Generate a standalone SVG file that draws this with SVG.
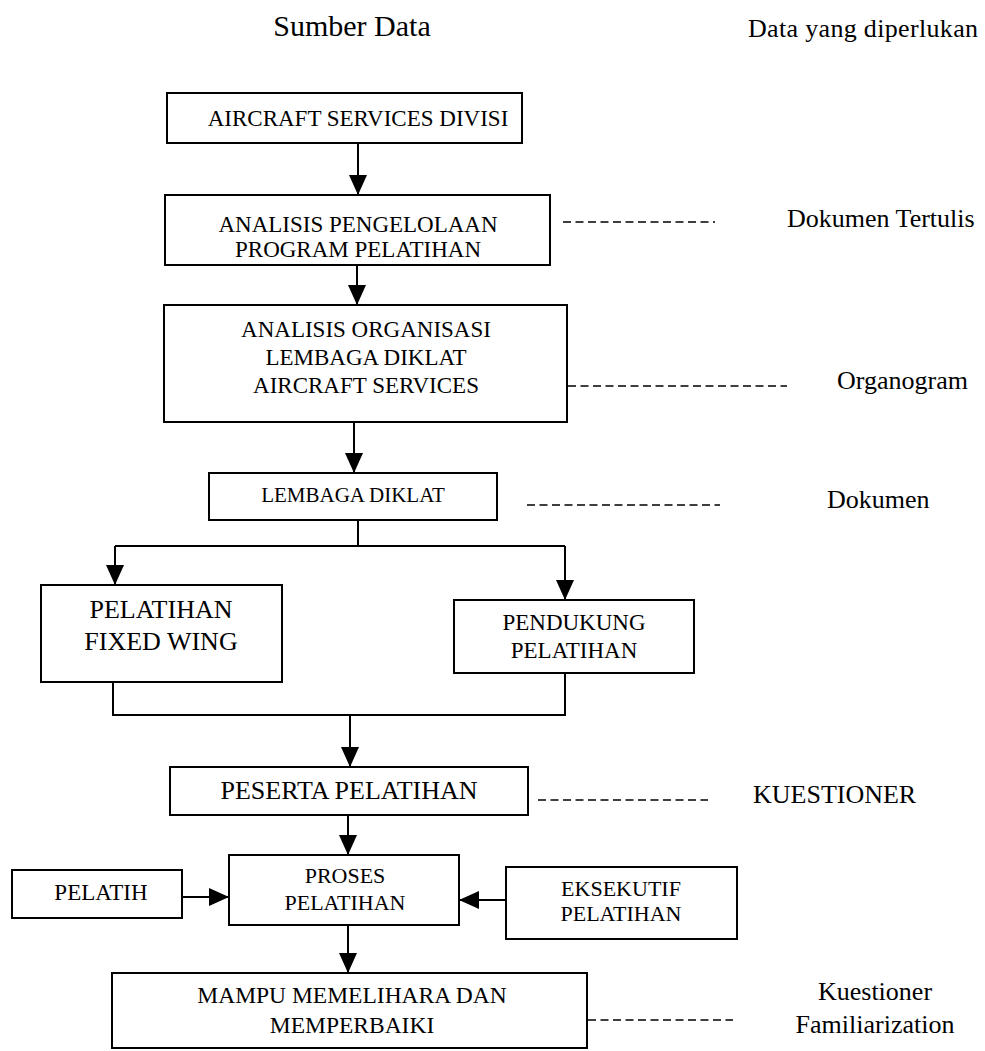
<svg xmlns="http://www.w3.org/2000/svg" width="985" height="1051" viewBox="0 0 985 1051">
<style>
text{font-family:"Liberation Serif","Times New Roman",serif;fill:#000}
.box{fill:#fff;stroke:#000;stroke-width:2}
.t{font-size:23px;text-anchor:middle}
.lbl{font-size:26px}
.c{fill:none;stroke:#000;stroke-width:2}
.d{fill:none;stroke:#000;stroke-width:1.6;stroke-dasharray:8 4.5}
</style>
<defs>
<marker id="ah" markerUnits="userSpaceOnUse" markerWidth="20" markerHeight="18" refX="20" refY="9" orient="auto">
<path d="M0,0 L20,9 L0,18 z" fill="#000"/>
</marker>
</defs>
<rect width="985" height="1051" fill="#fff"/>
<g id="headers">
<text x="352" y="36" style="font-size:30px;text-anchor:middle">Sumber Data</text>
<text x="748" y="37" class="lbl" textLength="230">Data yang diperlukan</text>
</g>
<g id="connectors">
<line class="c" x1="358" y1="143" x2="358" y2="195" marker-end="url(#ah)"/>
<line class="c" x1="357" y1="265" x2="357" y2="305" marker-end="url(#ah)"/>
<line class="c" x1="354" y1="422" x2="354" y2="473" marker-end="url(#ah)"/>
<polyline class="c" points="358,520 358,546"/>
<polyline class="c" points="115,546 565,546"/>
<line class="c" x1="115" y1="546" x2="115" y2="585" marker-end="url(#ah)"/>
<line class="c" x1="565" y1="546" x2="565" y2="600" marker-end="url(#ah)"/>
<polyline class="c" points="113,682 113,715 565,715 565,673"/>
<line class="c" x1="350" y1="715" x2="350" y2="767" marker-end="url(#ah)"/>
<line class="c" x1="348" y1="815" x2="348" y2="855" marker-end="url(#ah)"/>
<line class="c" x1="182" y1="897" x2="229" y2="897" marker-end="url(#ah)"/>
<line class="c" x1="506" y1="900" x2="459" y2="900" marker-end="url(#ah)"/>
<line class="c" x1="348" y1="925" x2="348" y2="973" marker-end="url(#ah)"/>
<line class="d" x1="563" y1="222" x2="715" y2="222"/>
<line class="d" x1="568" y1="386" x2="787" y2="386"/>
<line class="d" x1="527" y1="505" x2="720" y2="505"/>
<line class="d" x1="538" y1="800" x2="708" y2="800"/>
<line class="d" x1="588" y1="1020" x2="733" y2="1020"/>
</g>
<g id="n1">
<rect class="box" x="167" y="93" width="355" height="50"/>
<text class="t" x="358" y="126">AIRCRAFT SERVICES DIVISI</text>
</g>
<g id="n2">
<rect class="box" x="165" y="195" width="385" height="70"/>
<text class="t" x="358" y="232">ANALISIS PENGELOLAAN</text>
<text class="t" x="358" y="257">PROGRAM PELATIHAN</text>
</g>
<g id="n3">
<rect class="box" x="164" y="305" width="403" height="117"/>
<text class="t" x="366" y="337">ANALISIS ORGANISASI</text>
<text class="t" x="366" y="365">LEMBAGA DIKLAT</text>
<text class="t" x="366" y="393">AIRCRAFT SERVICES</text>
</g>
<g id="n4">
<rect class="box" x="209" y="473" width="288" height="47"/>
<text class="t" x="353" y="502" style="font-size:21px">LEMBAGA DIKLAT</text>
</g>
<g id="n5">
<rect class="box" x="41" y="585" width="241" height="97"/>
<text class="t" x="161" y="618" style="font-size:26px">PELATIHAN</text>
<text class="t" x="161" y="650" style="font-size:26px">FIXED WING</text>
</g>
<g id="n6">
<rect class="box" x="454" y="600" width="240" height="73"/>
<text class="t" x="574" y="630">PENDUKUNG</text>
<text class="t" x="574" y="658">PELATIHAN</text>
</g>
<g id="n7">
<rect class="box" x="170" y="767" width="358" height="48"/>
<text class="t" x="349" y="799" style="font-size:26px">PESERTA PELATIHAN</text>
</g>
<g id="n8">
<rect class="box" x="229" y="855" width="230" height="70"/>
<text class="t" x="345" y="883" style="font-size:22px">PROSES</text>
<text class="t" x="345" y="910" style="font-size:22px">PELATIHAN</text>
</g>
<g id="n9">
<rect class="box" x="12" y="870" width="170" height="48"/>
<text class="t" x="101" y="900">PELATIH</text>
</g>
<g id="n10">
<rect class="box" x="506" y="867" width="231" height="72"/>
<text class="t" x="621" y="896" style="font-size:22px">EKSEKUTIF</text>
<text class="t" x="621" y="921" style="font-size:22px">PELATIHAN</text>
</g>
<g id="n11">
<rect class="box" x="112" y="973" width="475" height="75"/>
<text class="t" x="352" y="1003" style="font-size:23.5px">MAMPU MEMELIHARA DAN</text>
<text class="t" x="352" y="1033" style="font-size:23.5px">MEMPERBAIKI</text>
</g>
<g id="labels">
<text x="787" y="227" class="lbl">Dokumen Tertulis</text>
<text x="837" y="389" class="lbl">Organogram</text>
<text x="827" y="508" class="lbl">Dokumen</text>
<text x="753" y="803" class="lbl">KUESTIONER</text>
<text x="875" y="1000" class="lbl" text-anchor="middle">Kuestioner</text>
<text x="875" y="1033" class="lbl" text-anchor="middle">Familiarization</text>
</g>
</svg>
